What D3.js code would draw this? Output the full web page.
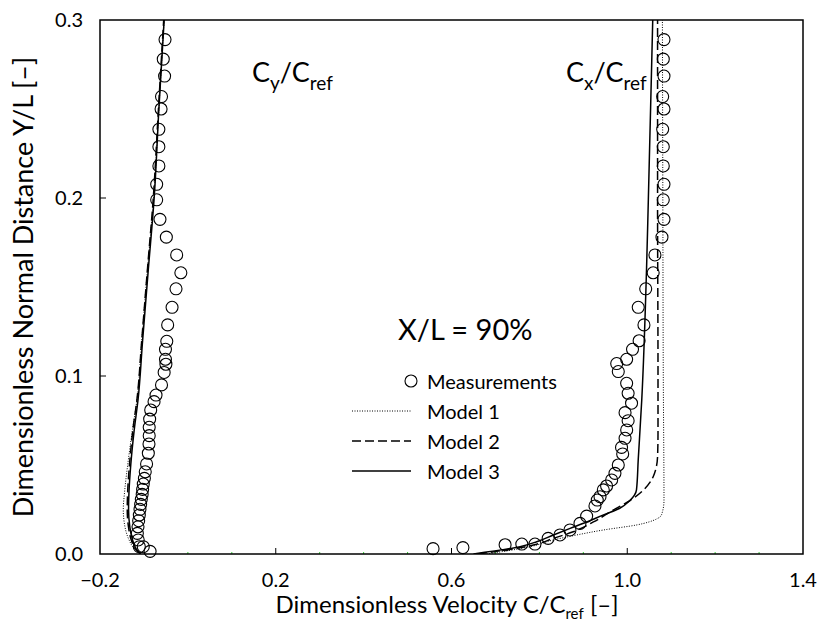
<!DOCTYPE html>
<html>
<head>
<meta charset="utf-8">
<script src="https://cdn.jsdelivr.net/npm/d3@7"></script>
<style>
  body { margin: 0; background: #fff; }
  text { font-family: Lato, "Open Sans", sans-serif; fill: #000; }
</style>
</head>
<body>
<div id="chart"></div>
<script>
// measurements, Cy component (velocity, height)
var cyMeasC = [-0.052, -0.056, -0.053, -0.060, -0.061, -0.066, -0.066, -0.066, -0.071, -0.071,
  -0.0635, -0.049, -0.0255, -0.016, -0.027, -0.036, -0.046, -0.048, -0.051, -0.051, -0.050, -0.054, -0.060, -0.0725,
  -0.077, -0.0846, -0.087, -0.088, -0.088, -0.0885, -0.090, -0.094, -0.097, -0.099, -0.1015, -0.103, -0.104,
  -0.106, -0.1075, -0.109, -0.1105, -0.112, -0.1135, -0.115, -0.113, -0.1105, -0.1015, -0.086];
var cyMeasY = [0.289, 0.278, 0.2685, 0.257, 0.250, 0.2386, 0.2288, 0.218, 0.2077, 0.199,
  0.188, 0.178, 0.168, 0.158, 0.149, 0.1386, 0.1287, 0.1195, 0.115, 0.1094, 0.1066, 0.102, 0.095, 0.0893,
  0.0856, 0.0809, 0.0758, 0.0712, 0.0665, 0.0618, 0.0566, 0.0506, 0.0462, 0.0425, 0.0393, 0.0363, 0.0335,
  0.0307, 0.0279, 0.0251, 0.0219, 0.0187, 0.0153, 0.0116, 0.0079, 0.0041, 0.0041, 0.0015];

// measurements, Cx component
var cxMeasC = [1.0836, 1.082, 1.0836, 1.0806, 1.0836, 1.0806, 1.082, 1.082, 1.0836, 1.082,
  1.0836, 1.079, 1.063, 1.059, 1.042, 1.025, 1.038, 1.027, 1.012, 0.9986, 0.976, 0.9796, 0.9986, 1.002,
  1.0098, 0.995, 1.002, 0.9987, 0.995, 0.987, 0.9896, 0.9796, 0.972, 0.9645, 0.953, 0.9455, 0.938,
  0.9318, 0.9265, 0.9076, 0.8924, 0.8696, 0.8469, 0.820, 0.790, 0.760, 0.722, 0.626, 0.558];
var cxMeasY = [0.289, 0.278, 0.2685, 0.257, 0.250, 0.2386, 0.2288, 0.218, 0.2077, 0.199,
  0.188, 0.178, 0.168, 0.158, 0.149, 0.1386, 0.1287, 0.1198, 0.115, 0.1094, 0.107, 0.1025, 0.0959, 0.0903,
  0.0847, 0.0794, 0.0749, 0.0697, 0.065, 0.0599, 0.0562, 0.05, 0.0453, 0.0416, 0.0382, 0.036, 0.0322,
  0.0303, 0.027, 0.0213, 0.0172, 0.0135, 0.0107, 0.0088, 0.0056, 0.0056, 0.0052, 0.0036, 0.003];

// model profiles, Cy
var cyModelY  = [0, 0.003, 0.008, 0.015, 0.025, 0.035, 0.05, 0.07, 0.0865, 0.12, 0.16, 0.199, 0.25, 0.3];
var cyModel1C = [-0.108, -0.122, -0.134, -0.143, -0.147, -0.144, -0.137, -0.126, -0.116, -0.105, -0.092, -0.078, -0.066, -0.054];
var cyModel2C = [-0.108, -0.120, -0.129, -0.135, -0.138, -0.137, -0.133, -0.125, -0.116, -0.105, -0.092, -0.079, -0.067, -0.055];
var cyModel3C = [-0.108, -0.118, -0.126, -0.132, -0.135, -0.134, -0.130, -0.122, -0.1135, -0.103, -0.090, -0.077, -0.066, -0.054];

// model profiles, Cx
var cxModel1Y = [0, 0.0041, 0.0079, 0.0107, 0.0135, 0.0163, 0.0197, 0.022, 0.030, 0.1, 0.2, 0.3];
var cxModel1C = [0.68, 0.779, 0.832, 0.885, 0.946, 1.021, 1.067, 1.078, 1.0836, 1.082, 1.081, 1.080];
var cxModel2Y = [0, 0.005, 0.0088, 0.0125, 0.018, 0.0247, 0.030, 0.036, 0.0434, 0.0547, 0.068, 0.1, 0.2, 0.3];
var cxModel2C = [0.66, 0.786, 0.832, 0.877, 0.923, 0.968, 1.006, 1.037, 1.059, 1.069, 1.070, 1.070, 1.069, 1.069];
var cxModel3Y = [0, 0.0041, 0.0069, 0.0107, 0.0144, 0.018, 0.022, 0.0257, 0.030, 0.036, 0.053, 0.0865, 0.161, 0.199, 0.3];
var cxModel3C = [0.65, 0.756, 0.794, 0.832, 0.870, 0.908, 0.946, 0.983, 1.006, 1.021, 1.025, 1.033, 1.044, 1.048, 1.058];

var xMajor = [-0.2, 0.2, 0.6, 1.0, 1.4];
var xMinor = [0.0, 0.1, 0.3, 0.4, 0.5, 0.7, 0.8, 0.9, 1.1, 1.2, 1.3];
var yMajor = [0.0, 0.1, 0.2, 0.3];

var W = 819, H = 624;
var m = {left: 100, top: 20, right: 16, bottom: 70};
var w = W - m.left - m.right, h = H - m.top - m.bottom;

var svg = d3.select('#chart').append('svg').attr('width', W).attr('height', H);
var g = svg.append('g').attr('transform', 'translate(' + m.left + ',' + m.top + ')');

var x = d3.scaleLinear().domain([-0.2, 1.4]).range([0, w]);
var y = d3.scaleLinear().domain([0, 0.3]).range([h, 0]);

g.append('clipPath').attr('id', 'clip').append('rect').attr('width', w).attr('height', h);

// minor x ticks (tiny green marks)
g.selectAll('.minor').data(xMinor).enter().append('line')
  .attr('x1', d => x(d)).attr('x2', d => x(d))
  .attr('y1', h).attr('y2', h - 2)
  .attr('stroke', '#3c3').attr('stroke-width', 1);

// major ticks, drawn inward
g.selectAll('.xt').data(xMajor.slice(1, -1)).enter().append('line')
  .attr('x1', d => x(d)).attr('x2', d => x(d))
  .attr('y1', h).attr('y2', h - 6)
  .attr('stroke', '#000').attr('stroke-width', 1);
g.selectAll('.yt').data(yMajor.slice(1, -1)).enter().append('line')
  .attr('x1', 0).attr('x2', 6)
  .attr('y1', d => y(d)).attr('y2', d => y(d))
  .attr('stroke', '#000').attr('stroke-width', 1);

// tick labels
g.selectAll('.xl').data(xMajor).enter().append('text')
  .attr('x', d => x(d)).attr('y', h + 33)
  .attr('text-anchor', 'middle').style('font-size', '20px')
  .text(d => d3.format('.1f')(d).replace('-', '\u2212'));
g.selectAll('.yl').data(yMajor).enter().append('text')
  .attr('x', -17).attr('y', d => y(d) + 7)
  .attr('text-anchor', 'end').style('font-size', '20px')
  .text(d => d3.format('.1f')(d));

// model lines
var line = d3.line().x(d => x(d[0])).y(d => y(d[1])).curve(d3.curveMonotoneY);
var models = [
  {c: cyModel1C, y: cyModelY, dash: '1,1.5', sw: 1},
  {c: cyModel2C, y: cyModelY, dash: '9,4', sw: 1.5},
  {c: cyModel3C, y: cyModelY, dash: null, sw: 1.5},
  {c: cxModel1C, y: cxModel1Y, dash: '1,1.5', sw: 1},
  {c: cxModel2C, y: cxModel2Y, dash: '9,4', sw: 1.5},
  {c: cxModel3C, y: cxModel3Y, dash: null, sw: 1.5}
];
var lines = g.append('g').attr('clip-path', 'url(#clip)');
models.forEach(function(md) {
  lines.append('path')
    .datum(md.c.map((c, i) => [c, md.y[i]]))
    .attr('d', line)
    .attr('fill', 'none')
    .attr('stroke', '#000')
    .attr('stroke-width', md.sw)
    .attr('stroke-dasharray', md.dash);
});

// measurement circles
var pts = cyMeasC.map((c, i) => [c, cyMeasY[i]])
  .concat(cxMeasC.map((c, i) => [c, cxMeasY[i]]));
g.append('g').selectAll('circle').data(pts).enter().append('circle')
  .attr('cx', d => x(d[0])).attr('cy', d => y(d[1])).attr('r', 6)
  .attr('fill', 'none').attr('stroke', '#000').attr('stroke-width', 1.1);

// frame
g.append('rect').attr('width', w).attr('height', h)
  .attr('fill', 'none').attr('stroke', '#000').attr('stroke-width', 1.5);

// component labels
function compLabel(px, py, sub) {
  var t = svg.append('text').attr('x', px).attr('y', py).style('font-size', '27px');
  t.append('tspan').text('C');
  t.append('tspan').attr('dy', 8).style('font-size', '19px').text(sub);
  t.append('tspan').attr('dy', -8).text('/C');
  t.append('tspan').attr('dy', 8).style('font-size', '19px').text('ref');
}
compLabel(252, 82, 'y');
compLabel(566, 82, 'x');

svg.append('text').attr('x', 398).attr('y', 340).style('font-size', '29px').text('X/L = 90%');

// legend
var legend = [
  {label: 'Measurements', type: 'circle'},
  {label: 'Model 1', dash: '1,1.5', sw: 1},
  {label: 'Model 2', dash: '9,4', sw: 1.5},
  {label: 'Model 3', dash: null, sw: 1.5}
];
legend.forEach(function(d, i) {
  var ly = 381 + i * 30;
  if (d.type === 'circle') {
    svg.append('circle').attr('cx', 411).attr('cy', ly).attr('r', 6)
      .attr('fill', 'none').attr('stroke', '#000').attr('stroke-width', 1.1);
  } else {
    svg.append('line').attr('x1', 352).attr('x2', 411).attr('y1', ly).attr('y2', ly)
      .attr('stroke', '#000').attr('stroke-width', d.sw).attr('stroke-dasharray', d.dash);
  }
  svg.append('text').attr('x', 427).attr('y', ly + 8).style('font-size', '20px').text(d.label);
});

// axis titles
var xt = svg.append('text').attr('x', 447).attr('y', 613)
  .attr('text-anchor', 'middle').style('font-size', '24px');
xt.append('tspan').text('Dimensionless Velocity C/C');
xt.append('tspan').attr('dy', 6).style('font-size', '15px').text('ref');
xt.append('tspan').attr('dy', -6).text(' [\u2013]');

svg.append('text')
  .attr('transform', 'translate(33,' + (m.top + h / 2) + ') rotate(-90)')
  .attr('text-anchor', 'middle').style('font-size', '27px')
  .text('Dimensionless Normal Distance Y/L [\u2013]');
</script>
</body>
</html>
